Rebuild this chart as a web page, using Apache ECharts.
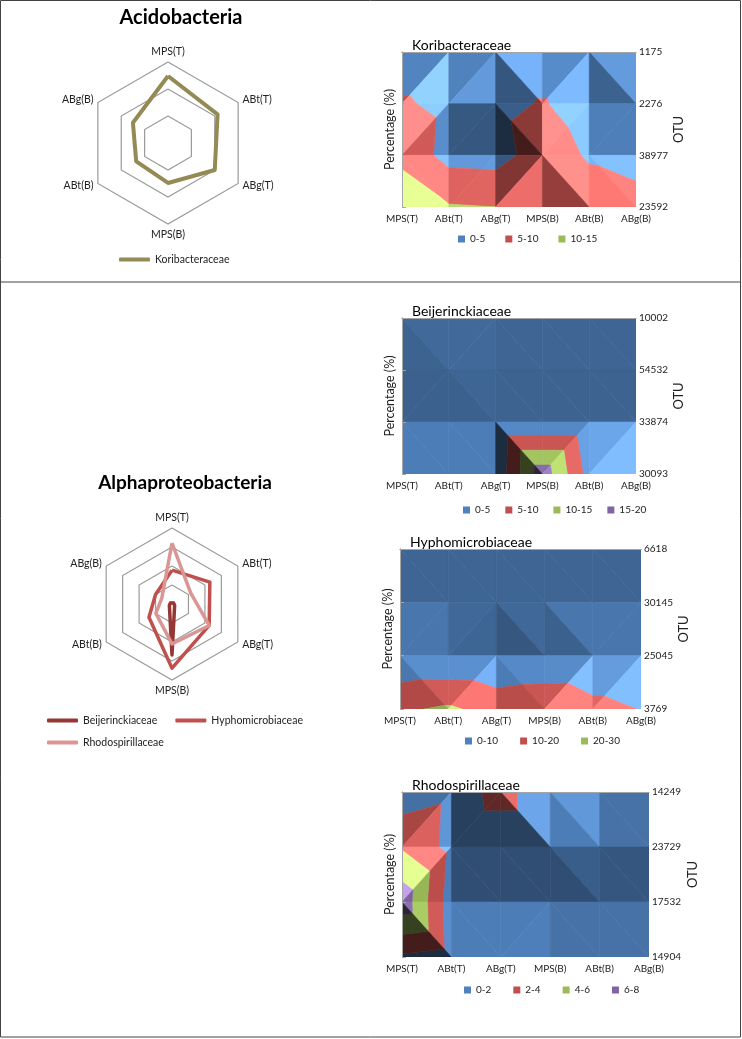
<!DOCTYPE html>
<html>
<head>
<meta charset="utf-8">
<script src="https://cdn.jsdelivr.net/npm/echarts/dist/echarts.min.js"></script>
<style>
  html, body { margin: 0; padding: 0; background: #fff; }
  #main { width: 742px; height: 1039px; }
</style>
</head>
<body>
<div id="main"></div>
<script>
// categories (sites)
var categories = ['MPS(T)', 'ABt(T)', 'ABg(T)', 'MPS(B)', 'ABt(B)', 'ABg(B)'];

// radar values, in category order
var koribRadar = [12.4, 10.6, 10.0, 7.4, 6.8, 7.5];
var beijerRadar = [0.3, 0.5, 0.8, 13.4, 0.8, 0.5];
var hyphoRadar = [8.9, 11.5, 11.3, 16.9, 7.0, 5.0];
var rhodoRadar = [16.0, 5.7, 11.3, 10.5, 4.9, 3.1];

// surface grids: one row per OTU, one column per category
var korOtu = ['1175', '2276', '38977', '23592'];
var korValues = [
    [1.3, 2.0, 2.5, 2.0, 2.5, 2.5],
    [5.6, 3.7, 3.8, 5.3, 3.0, 3.5],
    [8.5, 3.3, 3.0, 7.4, 4.5, 3.0],
    [14.0, 10.4, 10.0, 7.4, 7.4, 7.0]
];
var korEdges = [0, 5, 10, 15];

var beiOtu = ['10002', '54532', '33874', '30093'];
var beiValues = [
    [0.6, 0.6, 0.6, 0.6, 0.6, 0.6],
    [0.6, 0.7, 0.6, 0.6, 0.6, 0.6],
    [0.5, 0.5, 0.5, 0.5, 0.5, 0.5],
    [1.0, 1.0, 1.0, 18.0, 3.0, 1.2]
];
var beiEdges = [0, 5, 10, 15, 20];

var hypOtu = ['6618', '30145', '25045', '3769'];
var hypValues = [
    [0.5, 0.5, 0.5, 0.5, 0.5, 0.5],
    [0.5, 0.5, 0.5, 0.5, 0.5, 0.5],
    [1.0, 0.6, 0.0, 0.6, 1.0, 0.5],
    [18.6, 21.4, 16.4, 18.5, 13.0, 9.7]
];
var hypEdges = [0, 10, 20, 30];

var rhoOtu = ['14249', '23729', '17532', '14904'];
var rhoValues = [
    [0.7, 1.5, 2.3, 1.4, 1.1, 1.1],
    [3.8, 1.4, 1.4, 1.4, 1.2, 1.2],
    [7.3, 0.9, 0.9, 0.9, 0.9, 0.9],
    [1.7, 1.1, 1.1, 1.0, 1.0, 1.0]
];
var rhoEdges = [0, 2, 4, 6, 8];

var bandColors = ['#4F81BD', '#C0504D', '#9BBB59', '#8064A2'];
var FONT = 'Lato';

// radar indicators run counter-clockwise, so reorder to get a clockwise layout
var radarOrder = [0, 5, 4, 3, 2, 1];
function reorder(arr) {
    return radarOrder.map(function(k) { return arr[k]; });
}

// split each grid cell in two triangles, along the diagonal with the larger sum
function triangulate(values) {
    var tris = [];
    for (var j = 0; j < values.length - 1; j++) {
        for (var i = 0; i < values[j].length - 1; i++) {
            var a = [i, j, values[j][i]], b = [i + 1, j, values[j][i + 1]];
            var c = [i, j + 1, values[j + 1][i]], d = [i + 1, j + 1, values[j + 1][i + 1]];
            if (a[2] + d[2] >= b[2] + c[2]) {
                tris.push([a, b, d], [a, d, c]);
            } else {
                tris.push([a, b, c], [b, d, c]);
            }
        }
    }
    return tris;
}

function clip(poly, val, keepAbove) {
    var out = [];
    for (var k = 0; k < poly.length; k++) {
        var a = poly[k], b = poly[(k + 1) % poly.length];
        var ina = keepAbove ? a[2] >= val : a[2] <= val;
        var inb = keepAbove ? b[2] >= val : b[2] <= val;
        if (ina) out.push(a);
        if (ina !== inb) {
            var t = (val - a[2]) / (b[2] - a[2]);
            out.push([a[0] + t * (b[0] - a[0]), a[1] + t * (b[1] - a[1]), val]);
        }
    }
    return out;
}

// simple lighting, like the 3-D surface seen from the top
var LIGHT = [0.612, -0.612, 0.5];
var KZ = 9;
function shade(hex, tri, axisMax) {
    var a = tri[0], b = tri[1], c = tri[2];
    var e1 = [b[0] - a[0], b[1] - a[1], b[2] - a[2]];
    var e2 = [c[0] - a[0], c[1] - a[1], c[2] - a[2]];
    var nx = e1[1] * e2[2] - e1[2] * e2[1];
    var ny = e1[2] * e2[0] - e1[0] * e2[2];
    var nz = e1[0] * e2[1] - e1[1] * e2[0];
    var sx = (-nx / nz) * KZ / axisMax;
    var sy = (-ny / nz) * KZ / axisMax;
    var I = (-sx * LIGHT[0] - sy * LIGHT[1] + LIGHT[2]) / Math.sqrt(1 + sx * sx + sy * sy);
    var r = I / LIGHT[2];
    var m = r <= 1 ? 0.35 + 0.43 * Math.min(1, Math.max(0, (r + 0.8) / 1.8)) : 0.78 * r;
    var rgb = [parseInt(hex.substr(1, 2), 16), parseInt(hex.substr(3, 2), 16), parseInt(hex.substr(5, 2), 16)];
    var out = rgb.map(function(ch) {
        if (m <= 1) return Math.round(ch * m);
        var v = Math.min(255, ch * m);
        return Math.round(v + (255 - v) * (m - 1) * 0.3);
    });
    return 'rgb(' + out.join(',') + ')';
}

var option = {
    backgroundColor: '#fff',
    animation: false,
    textStyle: { fontFamily: FONT },
    title: [],
    legend: [],
    grid: [],
    xAxis: [],
    yAxis: [],
    radar: [],
    series: [],
    graphic: [
        { type: 'rect', shape: { x: 0.5, y: 0.5, width: 740, height: 1036.5 }, style: { fill: 'none', stroke: '#444', lineWidth: 1 } },
        { type: 'line', shape: { x1: 0, y1: 282, x2: 741, y2: 282 }, style: { stroke: '#444', lineWidth: 1.2 } }
    ]
};

// ---------- radar charts ----------
function addRadar(title, titleTop, titleSize, center, radius, max, splitNumber) {
    option.title.push({
        text: title, left: center[0] + 8, top: titleTop, textAlign: 'center',
        textStyle: { fontFamily: FONT, fontSize: titleSize, fontWeight: 'bold', color: '#000' }
    });
    option.radar.push({
        center: center, radius: radius, startAngle: 90, splitNumber: splitNumber, shape: 'polygon',
        indicator: reorder(categories).map(function(n) { return { name: n, max: max, min: 0 }; }),
        axisName: { color: '#222', fontSize: 10.5, fontFamily: FONT },
        nameGap: 5,
        splitLine: { lineStyle: { color: '#9a9a9a', width: 1.2 } },
        splitArea: { show: false },
        axisLine: { show: false },
        axisTick: { show: false },
        axisLabel: { show: false }
    });
}

addRadar('Acidobacteria', 3, 20, [168, 143], 81, 15, 3);
addRadar('Alphaproteobacteria', 468, 19, [172, 604], 76, 20, 4);

option.series.push({
    type: 'radar', radarIndex: 0, symbol: 'none',
    data: [{ name: 'Koribacteraceae', value: reorder(koribRadar),
        lineStyle: { color: '#948A54', width: 4, join: 'round' }, itemStyle: { color: '#948A54' } }]
});
option.series.push({
    type: 'radar', radarIndex: 1, symbol: 'none',
    data: [
        { name: 'Beijerinckiaceae', value: reorder(beijerRadar),
            lineStyle: { color: '#953735', width: 3.5, join: 'round' }, itemStyle: { color: '#953735' } },
        { name: 'Hyphomicrobiaceae', value: reorder(hyphoRadar),
            lineStyle: { color: '#C0504D', width: 3.5, join: 'round' }, itemStyle: { color: '#C0504D' } },
        { name: 'Rhodospirillaceae', value: reorder(rhodoRadar),
            lineStyle: { color: '#D99694', width: 3.5, join: 'round' }, itemStyle: { color: '#D99694' } }
    ]
});

function radarLegend(names, left, top) {
    option.legend.push({
        data: names, left: left, top: top, padding: 0, itemGap: 18, itemTextGap: 2,
        icon: 'roundRect', itemWidth: 31, itemHeight: 4, selectedMode: false,
        textStyle: { fontFamily: FONT, fontSize: 10.5, color: '#222' }
    });
}
radarLegend(['Koribacteraceae'], 119, 254);
radarLegend(['Beijerinckiaceae', 'Hyphomicrobiaceae'], 47, 715);
radarLegend(['Rhodospirillaceae'], 47, 737);

// ---------- surface (contour) charts ----------
function addSurface(cfg) {
    var gi = option.grid.length;
    option.grid.push({ left: cfg.box[0], top: cfg.box[1], width: cfg.box[2], height: cfg.box[3] });
    option.title.push({
        text: cfg.title, left: cfg.box[0] + 5, top: cfg.box[1] - 19,
        textStyle: { fontFamily: FONT, fontSize: 14, fontWeight: 'normal', color: '#000' }
    });
    var axisLine = { show: true, lineStyle: { color: '#a6a6a6', width: 1 } };
    // bottom axis with the categories
    option.xAxis.push({
        type: 'value', gridIndex: gi, min: 0, max: 5, interval: 1, position: 'bottom', z: 5,
        axisLine: axisLine, axisTick: { show: false }, splitLine: { show: false },
        axisLabel: { margin: 7, fontSize: 10, color: '#222', fontFamily: FONT,
            formatter: function(v) { return categories[v]; } }
    });
    // top frame line
    option.xAxis.push({
        type: 'value', gridIndex: gi, min: 0, max: 5, position: 'top', z: 5,
        axisLine: axisLine, axisTick: { show: false }, axisLabel: { show: false }, splitLine: { show: false }
    });
    var otu = cfg.otu;
    option.yAxis.push({
        type: 'value', gridIndex: gi, min: 0, max: 3, interval: 1, inverse: true, position: 'right', z: 5,
        axisLine: axisLine, axisTick: { show: true, length: 4, lineStyle: { color: '#a6a6a6' } },
        splitLine: { show: false },
        axisLabel: { margin: 3, fontSize: 10, color: '#222', fontFamily: FONT,
            formatter: function(v) { return otu[v]; } },
        name: 'OTU', nameLocation: 'middle', nameRotate: 90, nameGap: cfg.otuGap,
        nameTextStyle: { fontSize: 13, color: '#222', fontFamily: FONT }
    });
    option.yAxis.push({
        type: 'value', gridIndex: gi, min: 0, max: 3, inverse: true, position: 'left', z: 5,
        axisLine: axisLine, axisTick: { show: false }, axisLabel: { show: false }, splitLine: { show: false },
        name: 'Percentage (%)', nameLocation: 'middle', nameRotate: 90, nameGap: 6,
        nameTextStyle: { fontSize: 12.5, color: '#222', fontFamily: FONT }
    });
    var xi = option.xAxis.length - 2, yi = option.yAxis.length - 2;

    var tris = triangulate(cfg.values);
    var axisMax = cfg.edges[cfg.edges.length - 1];
    var names = [];
    for (var b = 0; b < cfg.edges.length - 1; b++) {
        var lo = cfg.edges[b], hi = cfg.edges[b + 1];
        var name = lo + '-' + hi;
        names.push(name);
        var data = tris.filter(function(t) {
            var mn = Math.min(t[0][2], t[1][2], t[2][2]), mx = Math.max(t[0][2], t[1][2], t[2][2]);
            return mx >= lo && mn <= hi;
        }).map(function(t) { return [].concat(t[0], t[1], t[2]); });
        option.series.push({
            type: 'custom', name: name, coordinateSystem: 'cartesian2d',
            xAxisIndex: xi, yAxisIndex: yi, clip: true,
            itemStyle: { color: bandColors[b] },
            encode: { x: 0, y: 1 },
            renderItem: (function(lo, hi, color) {
                return function(params, api) {
                    var tri = [
                        [api.value(0), api.value(1), api.value(2)],
                        [api.value(3), api.value(4), api.value(5)],
                        [api.value(6), api.value(7), api.value(8)]
                    ];
                    var poly = clip(clip(tri, lo, true), hi, false);
                    if (poly.length < 3) return { type: 'group', children: [] };
                    var pts = poly.map(function(q) { return api.coord([q[0], q[1]]); });
                    var fill = shade(color, tri, axisMax);
                    return { type: 'polygon', shape: { points: pts },
                        style: { fill: fill, stroke: fill, lineWidth: 0.6 } };
                };
            })(lo, hi, bandColors[b]),
            data: data
        });
    }
    option.legend.push({
        data: names.map(function(n) { return { name: n, icon: 'rect' }; }),
        left: cfg.legend[0], top: cfg.legend[1], padding: 0,
        itemGap: cfg.legendGap, itemTextGap: 2, itemWidth: 7, itemHeight: 7, selectedMode: false,
        textStyle: { fontFamily: FONT, fontSize: 10, color: '#222' }
    });
}

addSurface({ title: 'Koribacteraceae', box: [402, 52, 234, 155], values: korValues, otu: korOtu,
    edges: korEdges, otuGap: 24, legend: [458, 234], legendGap: 20 });
addSurface({ title: 'Beijerinckiaceae', box: [402, 318, 234, 156], values: beiValues, otu: beiOtu,
    edges: beiEdges, otuGap: 29, legend: [463, 505], legendGap: 15 });
addSurface({ title: 'Hyphomicrobiaceae', box: [400, 549, 241, 160], values: hypValues, otu: hypOtu,
    edges: hypEdges, otuGap: 34, legend: [465, 736], legendGap: 22 });
addSurface({ title: 'Rhodospirillaceae', box: [402, 792, 247, 165], values: rhoValues, otu: rhoOtu,
    edges: rhoEdges, otuGap: 37, legend: [464, 985], legendGap: 22 });

var chart = echarts.init(document.getElementById('main'));
chart.setOption(option);
</script>
</body>
</html>
